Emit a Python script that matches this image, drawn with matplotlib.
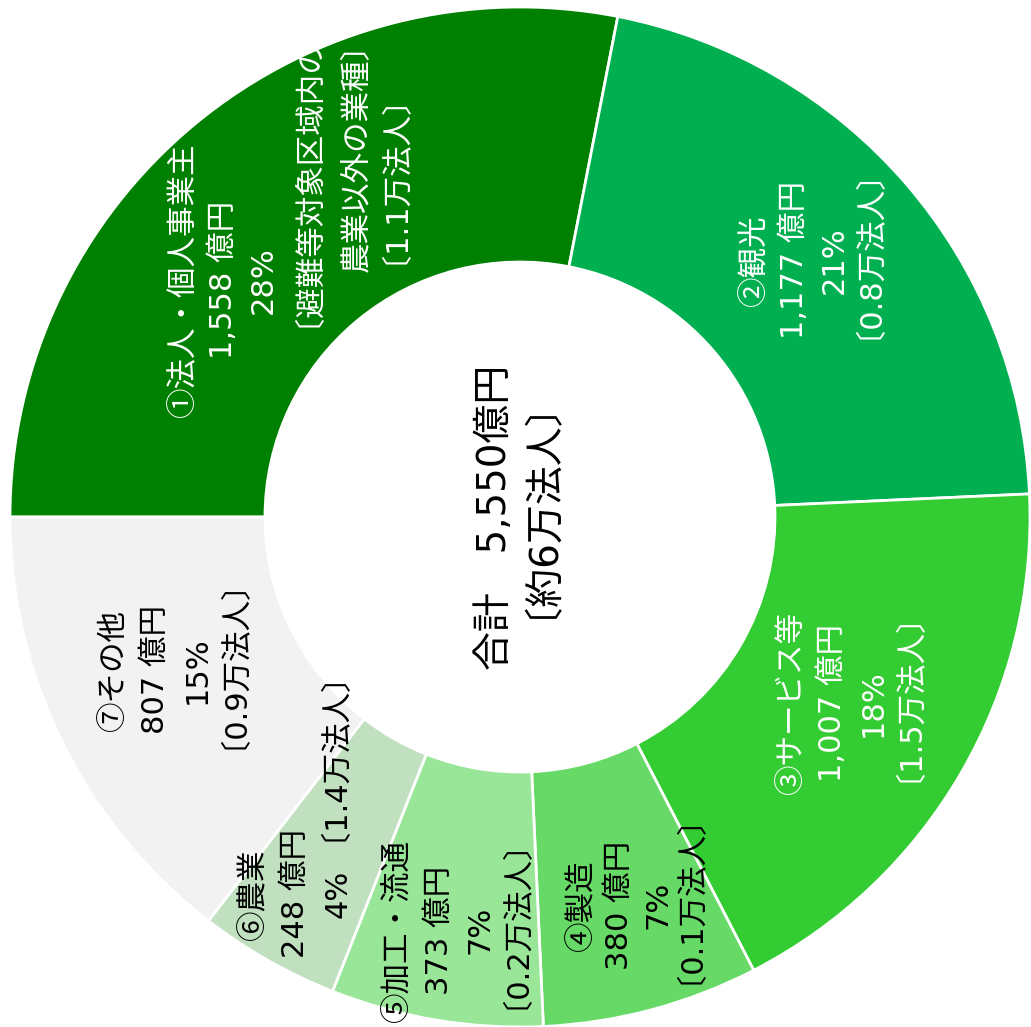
import matplotlib.pyplot as plt

# Verdana-like Latin digits (as in the original), Japanese from Noto CJK
plt.rcParams['font.family'] = ['DejaVu Sans', 'Noto Sans CJK JP']
CJK = ['Noto Sans CJK JP', 'DejaVu Sans']   # for the names: larger circled digits

# data
names = ['①法人・個人事業主', '②観光', '③サービス等', '④製造', '⑤加工・流通', '⑥農業', '⑦その他']
amounts = [1558, 1177, 1007, 380, 373, 248, 807]   # 億円
corps = [1.1, 0.8, 1.5, 0.1, 0.2, 1.4, 0.9]        # 万法人
total_amount = 5550
total_corps = 6
note_1 = ['〔避難等対象区域内の', '農業以外の業種〕']

colors = ['#008000', '#00B050', '#33CC33', '#66D966', '#99E699', '#C0E0C0', '#F2F2F2']
text_colors = ['white', 'white', 'white', 'black', 'black', 'black', 'black']

W, H = 1031, 1027
DPI = 100
cx, cy, R = 520, 517, 510   # pixel centre and outer radius


def px(x, y):
    # pixel position -> data coords of the pie axes
    return (x - cx) / R, (cy - y) / R


def vtext(txt, x, y, size, color, family=None):
    # x, y = pixel centre of the glyph column; text anchored on its baseline
    em = size * DPI / 72
    if txt.startswith('〔'):
        # Agg misplaces rotated text whose first glyph starts far from the pen;
        # a leading space avoids it
        txt = ' ' + txt
        y += 0.318 * em / 2
    kw = {'family': family} if family else {}
    ax.text(*px(x + 0.30 * em, y), txt, rotation=90, rotation_mode='anchor',
            ha='center', va='baseline', fontsize=size, color=color, **kw)


fig = plt.figure(figsize=(W / DPI, H / DPI), dpi=DPI)
ax = fig.add_axes([0, 0, 1, 1])
ax.pie(amounts, colors=colors, startangle=180, counterclock=False, radius=1,
       wedgeprops=dict(width=0.5, edgecolor='white', linewidth=2))
ax.set_xlim(-cx / R, (W - cx) / R)
ax.set_ylim(-(H - cy) / R, cy / R)
ax.set_aspect('equal')
ax.axis('off')

fs = 22
# block centre (pixels) and column spacing for each label
label_pos = [(223, 280), (814, 260), (852, 703), (638, 905), (459, 930), (295, 894), (176, 670)]
label_gap = [40, 40, 41, 38, 41, 42, 42]

for i, name in enumerate(names):
    pct = round(amounts[i] / total_amount * 100)
    lines = [name, f'{amounts[i]:,} 億円', f'{pct}%']
    if i not in (0, 5):
        lines.append(f'〔{corps[i]}万法人〕')
    xc, yc = label_pos[i]
    n = len(lines)
    for j, line in enumerate(lines):
        vtext(line, xc + (j - (n - 1) / 2) * label_gap[i], yc, fs, text_colors[i],
              family=CJK if j == 0 else None)

# extra lines for ① and ⑥
vtext(note_1[0], 313, 196, fs, text_colors[0])
vtext(note_1[1], 357, 150, fs, text_colors[0])
vtext(f'〔{corps[0]}万法人〕', 400, 185, fs, text_colors[0])
vtext(f'〔{corps[5]}万法人〕', 339, 762, fs, text_colors[5])

vtext(f'合計　{total_amount:,}億円', 494, 517, 28, 'black')
vtext(f'〔約{total_corps}万法人〕', 548, 517, 28, 'black')

fig.savefig('out.png', dpi=DPI)
